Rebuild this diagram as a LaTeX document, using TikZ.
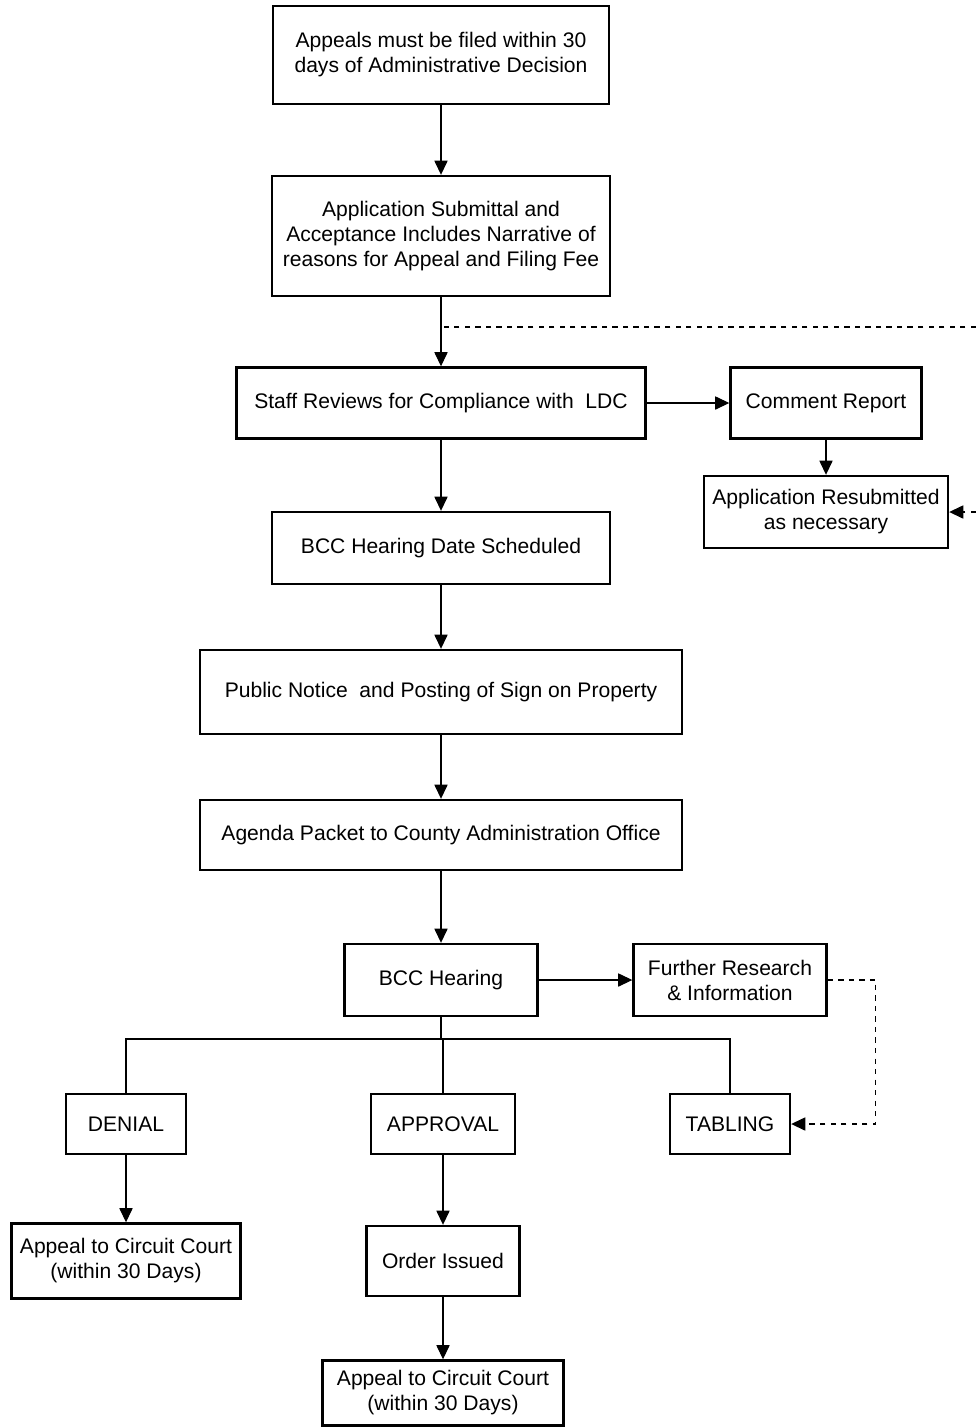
\documentclass[tikz,border=0pt]{standalone}
\usepackage{fontspec}
\setmainfont{Liberation Sans}
\usepackage{tikz}
\usetikzlibrary{arrows.meta}

\begin{document}
\begin{tikzpicture}[
    x=0.02cm, y=-0.02cm,
    box/.style={rectangle, draw=black, line width=1.4pt, align=center, inner sep=1pt, font=\fontsize{12}{14.2}\selectfont},
    arrow/.style={line width=0.6pt, -{Triangle[length=8pt,width=7.5pt]}},
    link/.style={line width=0.6pt},
    loop/.style={line width=0.6pt, dashed}
]
\useasboundingbox (0,0) rectangle (976,1427);

% Define main flow nodes
\node [box, minimum width=6.72cm, minimum height=1.96cm] (filed) at (441,55) {Appeals must be filed within 30\\days of Administrative Decision};
\node [box, minimum width=6.76cm, minimum height=2.40cm] (submittal) at (441,236) {Application Submittal and\\Acceptance Includes Narrative of\\reasons for Appeal and Filing Fee};
\node [box, minimum width=8.18cm, minimum height=1.42cm] (review) at (441,403) {Staff Reviews for Compliance with\ \ LDC};
\node [box, minimum width=3.82cm, minimum height=1.42cm] (comment) at (826,403) {Comment Report};
\node [box, minimum width=4.88cm, minimum height=1.44cm] (resubmit) at (826,512) {Application Resubmitted\\as necessary};
\node [box, minimum width=6.76cm, minimum height=1.44cm] (schedule) at (441,548) {BCC Hearing Date Scheduled};
\node [box, minimum width=9.64cm, minimum height=1.68cm] (notice) at (441,692) {Public Notice\ \ and Posting of Sign on Property};
\node [box, minimum width=9.64cm, minimum height=1.40cm] (agenda) at (441,835) {Agenda Packet to County Administration Office};
\node [box, minimum width=3.86cm, minimum height=1.44cm] (hearing) at (441,980) {BCC Hearing};
\node [box, minimum width=3.86cm, minimum height=1.44cm] (research) at (730,980) {Further Research\\\& Information};

% Hearing outcomes
\node [box, minimum width=2.40cm, minimum height=1.20cm] (denial) at (126,1124) {DENIAL};
\node [box, minimum width=2.88cm, minimum height=1.20cm] (approval) at (443,1124) {APPROVAL};
\node [box, minimum width=2.40cm, minimum height=1.20cm] (tabling) at (730,1124) {TABLING};
\node [box, minimum width=4.58cm, minimum height=1.50cm] (courtleft) at (126,1261) {Appeal to Circuit Court\\(within 30 Days)};
\node [box, minimum width=3.06cm, minimum height=1.40cm] (order) at (443,1261) {Order Issued};
\node [box, minimum width=4.82cm, minimum height=1.30cm] (courtbottom) at (443,1393) {Appeal to Circuit Court\\(within 30 Days)};

% Helper points
\coordinate (loopin) at (441,327);
\coordinate (edgetop) at (976,327);
\coordinate (edgemid) at (976,512);
\coordinate (split) at (441,1039);

% Main arrows
\draw [arrow] (filed) -- (submittal);
\draw [arrow] (submittal) -- (review);
\draw [arrow] (review) -- (comment);
\draw [arrow] (comment) -- (resubmit);
\draw [arrow] (review) -- (schedule);
\draw [arrow] (schedule) -- (notice);
\draw [arrow] (notice) -- (agenda);
\draw [arrow] (agenda) -- (hearing);
\draw [arrow] (hearing) -- (research);

% Resubmittal loop
\draw [loop] (edgetop) -- (loopin);
\draw [loop, -{Triangle[length=8pt,width=7.5pt]}] (edgemid) -- (resubmit.east |- edgemid);

% Outcome branches
\draw [link] (hearing) -- (split);
\draw [link] (denial.north) |- (split) -| (tabling.north);
\draw [link] (approval.north) -- (approval.north |- split);
\draw [loop, -{Triangle[length=8pt,width=7.5pt]}] (research.east) -- ++(48,0) |- (tabling.east);

% Lower arrows
\draw [arrow] (denial) -- (courtleft);
\draw [arrow] (approval) -- (order);
\draw [arrow] (order) -- (courtbottom);

\end{tikzpicture}
\end{document}
